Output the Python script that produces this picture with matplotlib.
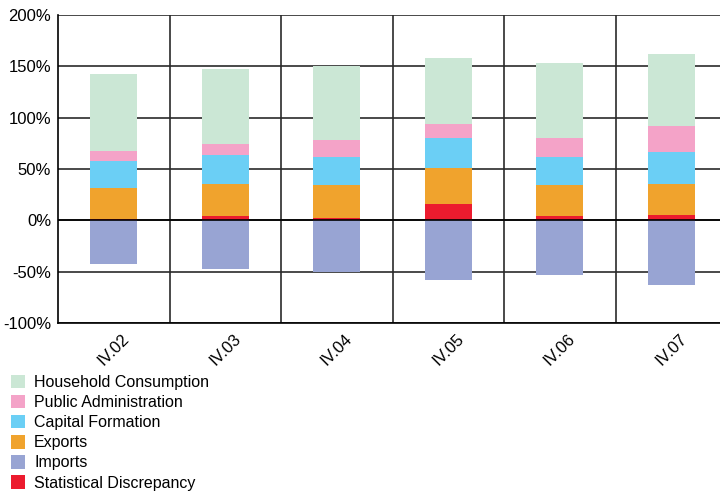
"""Stacked contributions by quarter, demand components."""

import matplotlib
matplotlib.use("Agg")
import matplotlib.pyplot as plt
import matplotlib.ticker as ticker
from matplotlib.patches import Patch
import numpy as np

plt.rcParams["font.family"] = ["Liberation Sans", "DejaVu Sans"]

quarters = ["IV.02", "IV.03", "IV.04", "IV.05", "IV.06", "IV.07"]

# Percent values per quarter.
discrepancy = [1.5, 4.2, 2.5, 16.2, 4.2, 5.2]
exports = [30.2, 31.5, 31.9, 35.1, 30.2, 30.5]
capital = [26.0, 27.9, 27.3, 29.2, 27.3, 31.1]
public = [9.7, 10.7, 16.8, 13.3, 18.8, 25.3]
household = [74.9, 73.1, 72.1, 64.3, 72.7, 69.9]
imports = [-42.3, -47.1, -50.0, -58.1, -53.3, -63.0]

colors = {
    "Household Consumption": "#cbe7d5",
    "Public Administration": "#f4a3c8",
    "Capital Formation": "#6bcff5",
    "Exports": "#f0a32d",
    "Imports": "#98a4d3",
    "Statistical Discrepancy": "#ec1b2e",
}

figure = plt.figure(figsize=(7.2, 4.91), dpi=100)
axis = figure.add_axes([58 / 720, 1 - 323 / 491, 669 / 720, 308 / 491])

x = np.arange(len(quarters))
width = 0.42

# Positive components stacked upward from zero.
stack = [
    ("Statistical Discrepancy", discrepancy),
    ("Exports", exports),
    ("Capital Formation", capital),
    ("Public Administration", public),
    ("Household Consumption", household),
]
bottom = np.zeros(len(quarters))
for name, values in stack:
    axis.bar(x, values, width, bottom=bottom, color=colors[name], zorder=2, linewidth=0)
    bottom += np.array(values)

axis.bar(x, imports, width, color=colors["Imports"], zorder=2, linewidth=0)
axis.axhline(0, color="black", linewidth=1.2, zorder=3)

# Axes and grid.
axis.set_xlim(-0.5, 5.5)
axis.set_ylim(-100, 200)
axis.yaxis.set_major_locator(ticker.MultipleLocator(50))
axis.yaxis.set_major_formatter(ticker.FuncFormatter(lambda v, p: "{:d}%".format(int(v))))
axis.set_xticks(x)
axis.set_xticklabels(quarters, rotation=45, ha="center", va="top", rotation_mode="default")
axis.set_xticks(x[:-1] + 0.5, minor=True)
axis.tick_params(axis="both", which="both", length=0, labelsize=12)
axis.tick_params(axis="y", pad=5)
axis.tick_params(axis="x", pad=6)
axis.grid(axis="y", which="major", color="#2a2a2a", linewidth=1.2, zorder=1)
axis.grid(axis="x", which="minor", color="#2a2a2a", linewidth=1.2, zorder=1)
axis.set_axisbelow(True)
for side in ("top", "right"):
    axis.spines[side].set_visible(False)
for side in ("left", "bottom"):
    axis.spines[side].set_color("black")
    axis.spines[side].set_linewidth(1.2)

# Legend below the plot.
order = [
    "Household Consumption",
    "Public Administration",
    "Capital Formation",
    "Exports",
    "Imports",
    "Statistical Discrepancy",
]
handles = [Patch(facecolor=colors[n], edgecolor="none", label=n) for n in order]
figure.legend(
    handles=handles,
    loc="upper left",
    bbox_to_anchor=(3 / 720, 1 - 367 / 491),
    frameon=False,
    fontsize=11.5,
    handlelength=0.9,
    handleheight=0.9,
    handletextpad=0.55,
    labelspacing=0.31,
    borderaxespad=0,
    borderpad=0.5,
)

figure.savefig("out.png", dpi=100)
